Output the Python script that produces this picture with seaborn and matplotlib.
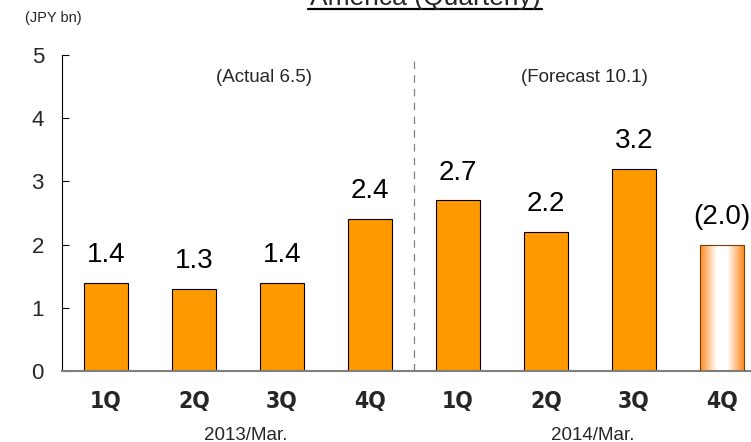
import numpy as np
import pandas as pd
import matplotlib
matplotlib.use("Agg")
import matplotlib.pyplot as plt
from matplotlib.colors import LinearSegmentedColormap
from matplotlib.lines import Line2D
import seaborn as sns

# Quarterly figures, JPY bn
quarters = ["1Q", "2Q", "3Q", "4Q", "1Q", "2Q", "3Q", "4Q"]
fiscal_years = ["2013/Mar."] * 4 + ["2014/Mar."] * 4
values = [1.4, 1.3, 1.4, 2.4, 2.7, 2.2, 3.2, 2.0]
value_labels = ["1.4", "1.3", "1.4", "2.4", "2.7", "2.2", "3.2", "(2.0)"]
is_forecast = [False] * 7 + [True]
year_totals = ["(Actual 6.5)", "(Forecast 10.1)"]
y_ticks = [0, 1, 2, 3, 4, 5]

df = pd.DataFrame({
    "slot": [f"{y} {q}" for y, q in zip(fiscal_years, quarters)],
    "quarter": quarters,
    "year": fiscal_years,
    "value": values,
})

sns.set_theme(style="white")
plt.rcParams["font.family"] = ["Liberation Sans", "DejaVu Sans"]

W, H = 751, 442
fig = plt.figure(figsize=(W / 100, H / 100), dpi=100)

ax_left, ax_right = 62 / W, 1.0
ax_bottom, ax_top = 1 - 371 / H, 1 - 55 / H
ax = fig.add_axes([ax_left, ax_bottom, ax_right - ax_left, ax_top - ax_bottom])

orange = "#FF9900"
sns.barplot(data=df, x="slot", y="value", order=list(df["slot"]), color=orange,
            width=0.5, saturation=1, edgecolor="black", linewidth=0.8, ax=ax)

ax.set_xlim(-0.5, -0.5 + (W - 62) / 88)
ax.set_ylim(0, 5)
ax.set_yticks(y_ticks)
ax.set_yticklabels([str(t) for t in y_ticks], fontsize=16)
ax.tick_params(axis="y", direction="in", length=5, width=0.8, color="black", pad=13, left=True)
ax.set_xticks(range(len(quarters)))
ax.set_xticklabels(quarters, fontsize=16.5, fontweight="bold", fontstretch="condensed",
                   family=["Liberation Sans Narrow", "DejaVu Sans"])
ax.tick_params(axis="x", length=0, pad=14)
ax.set_xlabel("")
ax.set_ylabel("")

for side in ("top", "right"):
    ax.spines[side].set_visible(False)
ax.spines["left"].set_color("black")
ax.spines["left"].set_linewidth(0.8)
ax.spines["bottom"].set_color("#7f7f7f")
ax.spines["bottom"].set_linewidth(1.5)

# Forecast bar: orange edges fading to white in the middle
grad_cmap = LinearSegmentedColormap.from_list(
    "fade", [(0.0, "#FF8A1F"), (0.38, "#FFFFFF"), (0.62, "#FFFFFF"), (1.0, "#FF8A1F")])
for patch, fc in zip(ax.patches, is_forecast):
    if fc:
        x0 = patch.get_x()
        w = patch.get_width()
        h = patch.get_height()
        patch.set_facecolor("none")
        patch.set_edgecolor("#7a3d00")
        patch.set_zorder(3)
        grad = np.linspace(0, 1, 256).reshape(1, -1)
        im = ax.imshow(grad, cmap=grad_cmap, extent=[x0, x0 + w, 0, h],
                       aspect="auto", zorder=2, interpolation="bicubic")
        im.set_clip_path(patch)
ax.set_xlim(-0.5, -0.5 + (W - 62) / 88)
ax.set_ylim(0, 5)

# value labels above the bars
for i, (v, lab) in enumerate(zip(values, value_labels)):
    ax.annotate(lab, (i, v), xytext=(0, 15), textcoords="offset points",
                ha="center", va="baseline", fontsize=20, color="black")

# split between actual and forecast years
ax.axvline(3.5, ymin=0, ymax=1, color="#808080", lw=0.9, ls=(0, (6, 5)))

ax.text(1.795, 4.65, year_totals[0], ha="center", va="center", fontsize=13.5)
ax.text(5.44, 4.65, year_totals[1], ha="center", va="center", fontsize=13.5)

# fiscal-year captions under the quarter labels
for xc, yr in [(1.59, "2013/Mar."), (5.53, "2014/Mar.")]:
    fig.text(ax_left + (xc + 0.5) * 88 / W, 1 - 435 / H, yr,
             ha="center", va="center", fontsize=13.5)

fig.text(53 / W, 1 - 18 / H, "(JPY bn)", ha="center", va="center", fontsize=10.5)

# underlined title
fig.text(425 / W, 1 - 5 / H, "America (Quarterly)", ha="center", va="baseline", fontsize=19)
fig.add_artist(Line2D([308 / W, 542 / W], [1 - 8.5 / H, 1 - 8.5 / H], color="black", lw=1.6,
                      transform=fig.transFigure))

fig.savefig("out.png", dpi=100)
